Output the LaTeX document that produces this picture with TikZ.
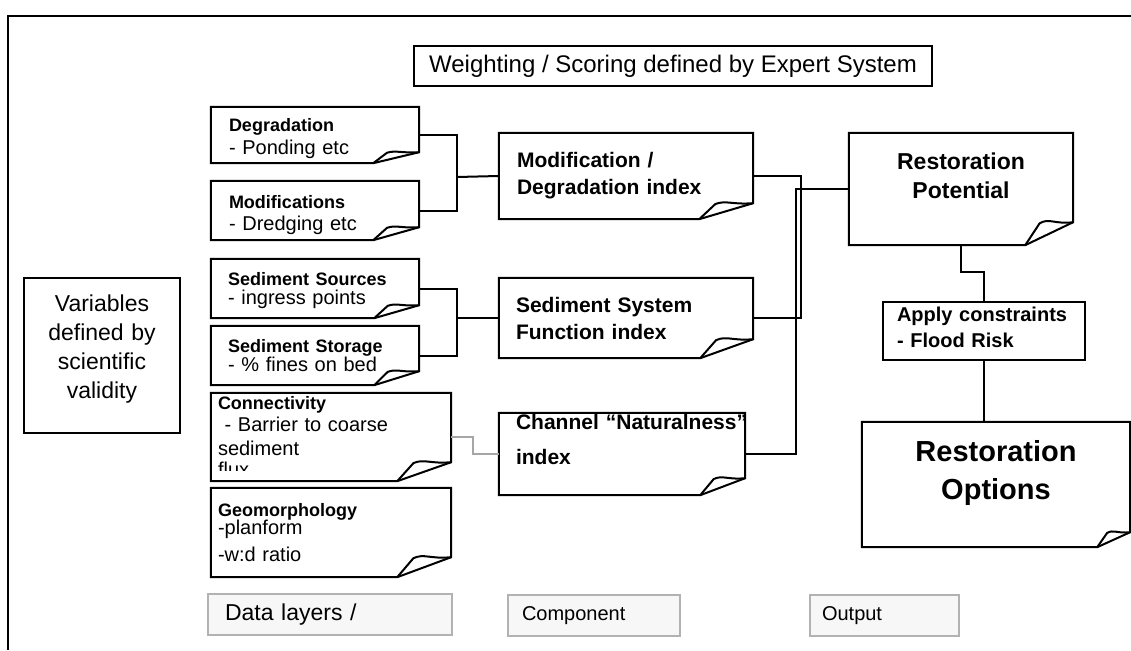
\documentclass[tikz,border=0pt]{standalone}
\usepackage{fontspec}
\setmainfont{Liberation Sans}
\usetikzlibrary{calc}

\newcommand{\notehead}{\bfseries\fontsize{18}{20}\selectfont}
\newcommand{\bodyfont}{\fontsize{20}{22}\selectfont}
\newcommand{\indexfont}{\bfseries\fontsize{21}{27}\selectfont}
\newcommand{\legendfont}{\fontsize{20}{22}\selectfont}
% outline of a note with its bottom right corner turned up
\newcommand{\foldnote}[3]{%
  \draw[notepen] ($(#1.south east)+(0,-#3)$) coordinate (#1-fr)
    -- (#1.north east) -- (#1.north west) -- (#1.south west)
    -- ($(#1.south east)+(-#2,0)$) coordinate (#1-fb) -- cycle;
  \draw[notepen] (#1-fb) -- ($(#1-fb)+(0.3*#2,-0.95*#3)$)
    .. controls +(0.2*#2,-0.25*#3) and +(-0.4*#2,0.1*#3) .. (#1-fr);
}

\begin{document}
\begin{tikzpicture}[x=1pt, y=-1pt,
    notepen/.style={line width=2pt, line join=miter},
    wire/.style={line width=2pt},
    graywire/.style={line width=1.6pt, draw=gray!70},
    plainbox/.style={rectangle, draw, line width=2pt},
    datanote/.style={rectangle, align=left, inner ysep=0pt, font=\bodyfont},
    indexnote/.style={rectangle, align=left, inner ysep=0pt, font=\indexfont},
    legend/.style={rectangle, draw=gray!60, fill=gray!6, line width=2pt, align=left, inner ysep=0pt, minimum height=41pt, font=\legendfont}
]
\useasboundingbox (0,0) rectangle (1131,650);
\draw[wire] (8,650) -- (8,16) -- (1131,16);

\node[plainbox, minimum width=518pt, minimum height=40pt, font=\fontsize{24}{26}\selectfont] (expert) at (673,66) {Weighting / Scoring defined by Expert System};
\node[plainbox, align=center, text width=148pt, inner xsep=4pt, minimum height=155pt, text depth=104pt, font=\fontsize{23}{29}\selectfont] (vars) at (102,355.5) {Variables\\ defined by\\ scientific\\ validity};

% data layers
\node[datanote, text width=172pt, inner xsep=18pt, minimum height=56pt, text depth=20pt, font=\fontsize{20}{23}\selectfont] (deg) at (315,135) {{\notehead Degradation}\\ - Ponding etc};
\node[datanote, text width=172pt, inner xsep=18pt, minimum height=59pt, text depth=18pt] (mods) at (315,210.5) {{\notehead Modifications}\\ - Dredging etc};
\node[datanote, text width=174pt, inner xsep=17pt, minimum height=59pt, text depth=19pt] (srcs) at (315,288.5) {{\notehead Sediment Sources}\\[-3pt] - ingress points};
\node[datanote, text width=174pt, inner xsep=17pt, minimum height=59pt] (stor) at (315,355.5) {{\notehead Sediment Storage}\\[-3pt] - \% fines on bed};
\begin{scope}
  \clip (205,388) rectangle (460,470);
  \node[datanote, text width=226pt, inner xsep=7pt, minimum height=88pt] (con) at (331,437) {{\notehead Connectivity}\\ \ - Barrier to coarse\\[2pt] sediment\\[-1pt] flux};
\end{scope}
\node[datanote, text width=226pt, inner xsep=7pt, minimum height=89pt] (geo) at (331,532.5) {{\notehead Geomorphology}\\[-4pt] -planform\\[5pt] -w:d ratio};
\foldnote{deg}{46}{11}
\foldnote{mods}{46}{13}
\foldnote{srcs}{45}{13}
\foldnote{stor}{45}{14}
\foldnote{con}{54}{19}
\foldnote{geo}{54}{20}

% component indices
\node[indexnote, text width=218pt, inner xsep=18pt, minimum height=86pt] (modidx) at (626,176) {Modification /\\ Degradation index};
\node[indexnote, text width=220pt, inner xsep=17pt, minimum height=80pt] (sedidx) at (626,318) {Sediment System\\ Function index};
\node[indexnote, text width=212pt, inner xsep=17pt, minimum height=82pt, text depth=65pt] (natidx) at (622,454) {\mbox{Channel “Naturalness”}\\[8pt] index};
\foldnote{modidx}{54}{16}
\foldnote{sedidx}{53}{19}
\foldnote{natidx}{45}{17}

% output side
\node[rectangle, align=center, text width=212pt, inner xsep=6pt, minimum height=112pt, text depth=56pt, font=\bfseries\fontsize{23}{29}\selectfont] (respot) at (961,189) {Restoration\\ Potential};
\node[plainbox, align=left, text width=174pt, inner xsep=14pt, minimum height=58pt, text depth=34pt, font=\bfseries\fontsize{20}{26}\selectfont] (apply) at (984,331) {Apply constraints\\ - Flood Risk};
\node[rectangle, align=center, text width=256pt, inner xsep=6pt, minimum height=125pt, text depth=68pt, font=\bfseries\fontsize{29}{38}\selectfont] (resopt) at (996,484.5) {Restoration\\ Options};
\foldnote{respot}{48}{23}
\foldnote{resopt}{33}{15}

% legend
\node[legend, text width=210pt, inner xsep=17pt, font=\fontsize{23}{26}\selectfont] (datal) at (330,614.5) {Data layers /};
\node[legend, text width=144pt, inner xsep=14pt] (comp) at (594,615.5) {Component};
\node[legend, text width=125pt, inner xsep=12pt] (outp) at (884.5,615.5) {Output};

% connectors
\coordinate (degjoin) at (457,177);
\coordinate (sedjoin) at (457,318);
\coordinate (sysjoin) at (801,318);
\coordinate (natjoin) at (796,454);
\coordinate (conbend) at (473,454);
\draw[wire] (deg.east) -| (degjoin) |- (mods.east);
\draw[wire] (degjoin) -- (modidx.west);
\draw[wire] (srcs.east) -| (sedjoin) |- (stor.east);
\draw[wire] (sedjoin) -- (sedidx.west);
\draw[wire] (modidx.east) -| (sysjoin) -- (sedidx.east);
\draw[wire] (respot.west) -| (natjoin) -- (natidx.east);
\draw[graywire] (con.east) -| (conbend) -- (natidx.west);
\draw[wire] (respot.south) -- ++(0,27) -| (apply.north);
\draw[wire] (apply.south) -- (apply.south |- resopt.north);
\end{tikzpicture}
\end{document}
